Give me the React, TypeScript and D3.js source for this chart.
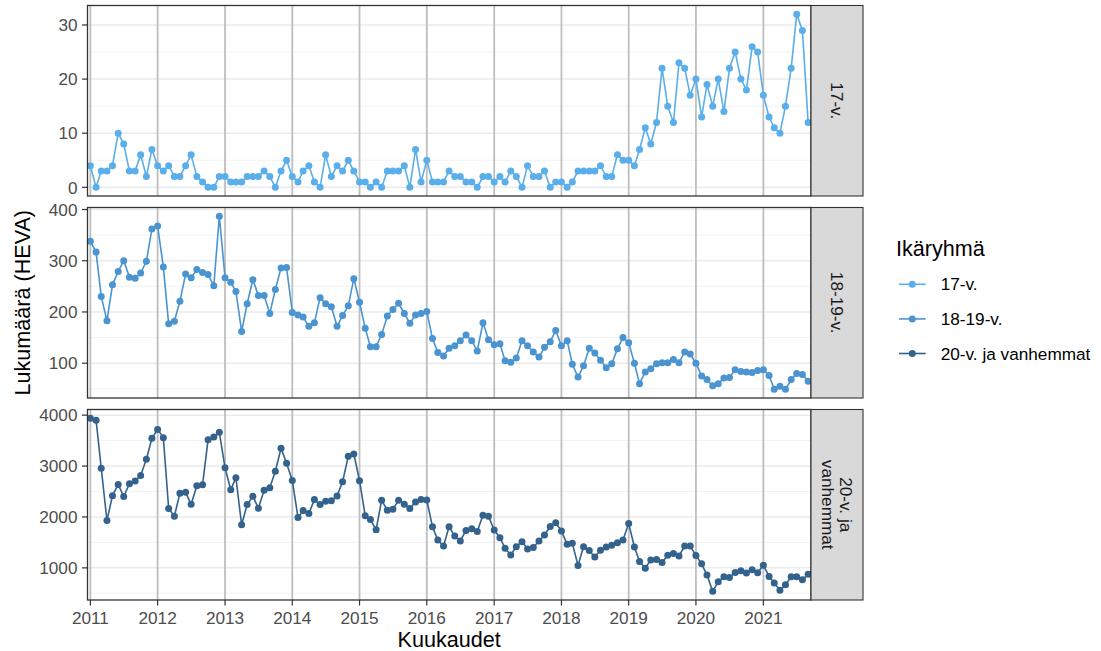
import React from "react";
import * as d3 from "d3";

// ---- Data (monthly, 2011-01 .. 2021-09) ----
const START = new Date(2011, 0, 1);
const N_MONTHS = 129;
const months: Date[] = d3.timeMonth.range(START, d3.timeMonth.offset(START, N_MONTHS));

const series17 = [
  4, 0, 3, 3, 4, 10, 8, 3, 3, 6, 2, 7,
  4, 3, 4, 2, 2, 4, 6, 2, 1, 0, 0, 2,
  2, 1, 1, 1, 2, 2, 2, 3, 2, 0, 3, 5,
  2, 1, 3, 4, 1, 0, 6, 2, 4, 3, 5, 3,
  1, 1, 0, 1, 0, 3, 3, 3, 4, 0, 7, 1,
  5, 1, 1, 1, 3, 2, 2, 1, 1, 0, 2, 2,
  1, 2, 1, 3, 2, 0, 4, 2, 2, 3, 0, 1,
  1, 0, 1, 3, 3, 3, 3, 4, 2, 2, 6, 5,
  5, 4, 7, 11, 8, 12, 22, 15, 12, 23, 22, 17,
  20, 13, 19, 15, 20, 14, 22, 25, 20, 18, 26, 25,
  17, 13, 11, 10, 15, 22, 32, 29, 12,
];

const series1819 = [
  338, 317, 230, 183, 253, 279, 300, 268, 266, 276, 299, 362,
  368, 288, 177, 182, 221, 274, 267, 283, 277, 273, 251, 387,
  267, 258, 240, 162, 216, 263, 232, 232, 197, 244, 286, 287,
  199, 194, 190, 172, 179, 228, 216, 210, 172, 193, 212, 265,
  219, 168, 132, 132, 156, 192, 205, 217, 197, 178, 194, 197,
  201, 148, 121, 114, 129, 134, 144, 155, 144, 124, 179, 146,
  136, 138, 105, 102, 110, 144, 134, 122, 112, 131, 142, 164,
  134, 144, 98, 73, 95, 129, 120, 106, 91, 99, 128, 150,
  140, 100, 60, 83, 89, 99, 101, 101, 107, 101, 122, 118,
  100, 75, 68, 56, 60, 71, 72, 87, 84, 83, 82, 86,
  87, 76, 49, 55, 49, 68, 80, 78, 65,
];

const series20 = [
  3941, 3902, 2959, 1931, 2419, 2640, 2400, 2653, 2705, 2816, 3135, 3545,
  3720, 3558, 2165, 2016, 2465, 2484, 2250, 2614, 2634, 3519, 3571, 3662,
  2966, 2536, 2770, 1846, 2243, 2406, 2172, 2523, 2575, 2900, 3349, 3057,
  2718, 1990, 2126, 2068, 2341, 2243, 2308, 2321, 2412, 2692, 3193, 3239,
  2712, 2022, 1950, 1749, 2328, 2133, 2152, 2328, 2250, 2165, 2295, 2341,
  2334, 1807, 1547, 1430, 1807, 1625, 1528, 1736, 1768, 1716, 2035, 2016,
  1742, 1593, 1385, 1254, 1417, 1515, 1372, 1398, 1528, 1645, 1814, 1885,
  1723, 1463, 1482, 1046, 1417, 1339, 1215, 1346, 1411, 1443, 1495, 1547,
  1872, 1411, 1124, 994, 1157, 1163, 1105, 1248, 1280, 1235, 1430, 1430,
  1241, 1079, 858, 539, 727, 825, 812, 910, 942, 897, 962, 903,
  1053, 832, 701, 558, 669, 825, 825, 766, 877,
];

const groupNames = ["17-v.", "18-19-v.", "20-v. ja vanhemmat"];
const stripLabels = [["17-v."], ["18-19-v."], ["20-v. ja", "vanhemmat"]];
const groupColors = ["#5aaeea", "#4a94d1", "#33628d"];
const yTicks = [
  [0, 10, 20, 30],
  [100, 200, 300, 400],
  [1000, 2000, 3000, 4000],
];
const yMinor = [
  [5, 15, 25],
  [50, 150, 250, 350],
  [500, 1500, 2500, 3500],
];
const yearTicks = d3.range(2011, 2022);

const allSeries = [series17, series1819, series20];

// ---- Layout ----
const W = 1101;
const H = 651;
const panelLeft = 87.5;
const panelRight = 811;
const panelTops = [5.5, 207.5, 409.5];
const panelH = 190.5;
const stripW = 52;
const FONT = "'Liberation Sans', Arial, Helvetica, sans-serif";
const SMALL = 17.2;
const TITLE = 21.6;

export default function App() {
  const first = months[0];
  const last = months[months.length - 1];
  const spanMs = +last - +first;
  const padMs = spanMs * 0.004;
  const x = d3
    .scaleTime()
    .domain([new Date(+first - padMs), new Date(+last + padMs)])
    .range([panelLeft, panelRight]);

  const panels = allSeries.map((vals, i) => {
    const [mn, mx] = d3.extent(vals) as [number, number];
    const e = (mx - mn) * 0.05;
    const top = panelTops[i];
    const y = d3.scaleLinear().domain([mn - e, mx + e]).range([top + panelH, top]);
    const line = d3
      .line<number>()
      .x((_, j) => x(months[j]))
      .y((v) => y(v));
    return { vals, y, top, line: line(vals) || "" };
  });

  const bottom = panelTops[2] + panelH;

  return (
    <svg
      width={W}
      height={H}
      style={{ position: "fixed", left: 0, top: 0, background: "#fff", fontFamily: FONT }}
    >
      <rect x={0} y={0} width={W} height={H} fill="#fff" />
      {panels.map((p, i) => (
        <g key={i}>
          <rect x={panelLeft} y={p.top} width={panelRight - panelLeft} height={panelH} fill="#fff" />
          {yMinor[i].map((t) =>
            p.y(t) > p.top && p.y(t) < p.top + panelH ? (
              <line key={"mi" + t} x1={panelLeft} x2={panelRight} y1={p.y(t)} y2={p.y(t)} stroke="#f2f2f2" strokeWidth={1} />
            ) : null
          )}
          {yTicks[i].map((t) => (
            <line key={"ma" + t} x1={panelLeft} x2={panelRight} y1={p.y(t)} y2={p.y(t)} stroke="#ebebeb" strokeWidth={1.5} />
          ))}
          {yearTicks.map((yr) => {
            const xx = x(new Date(yr, 0, 1));
            return <line key={"v" + yr} x1={xx} x2={xx} y1={p.top} y2={p.top + panelH} stroke="#bebebe" strokeWidth={1.8} />;
          })}
          <path d={p.line} fill="none" stroke={groupColors[i]} strokeWidth={1.6} />
          {p.vals.map((v, j) => (
            <circle key={j} cx={x(months[j])} cy={p.y(v)} r={3.5} fill={groupColors[i]} />
          ))}
          <rect x={panelLeft} y={p.top} width={panelRight - panelLeft} height={panelH} fill="none" stroke="#333333" strokeWidth={1.3} />
          {/* y axis */}
          {yTicks[i].map((t) => (
            <g key={"yt" + t}>
              <line x1={panelLeft - 5.5} x2={panelLeft} y1={p.y(t)} y2={p.y(t)} stroke="#333333" strokeWidth={1.2} />
              <text x={panelLeft - 10} y={p.y(t)} dy="0.36em" textAnchor="end" fontSize={SMALL} fill="#4d4d4d">
                {t}
              </text>
            </g>
          ))}
          {/* strip */}
          <rect x={panelRight} y={p.top} width={stripW} height={panelH} fill="#d9d9d9" stroke="#333333" strokeWidth={1.1} />
          <g transform={`translate(${panelRight + stripW / 2}, ${p.top + panelH / 2}) rotate(90)`}>
            {stripLabels[i].map((s, k) => {
              const n = stripLabels[i].length;
              const off = (k - (n - 1) / 2) * 18.5;
              return (
                <text key={k} x={0} y={off} dy="0.36em" textAnchor="middle" fontSize={SMALL} fill="#1a1a1a">
                  {s}
                </text>
              );
            })}
          </g>
        </g>
      ))}
      {/* x axis */}
      {yearTicks.map((yr) => {
        const xx = x(new Date(yr, 0, 1));
        return (
          <g key={"xt" + yr}>
            <line x1={xx} x2={xx} y1={bottom} y2={bottom + 5.5} stroke="#333333" strokeWidth={1.2} />
            <text x={xx} y={bottom + 23.5} textAnchor="middle" fontSize={SMALL} fill="#4d4d4d">
              {yr}
            </text>
          </g>
        );
      })}
      <text x={(panelLeft + panelRight) / 2} y={647} textAnchor="middle" fontSize={TITLE} fill="#000">
        Kuukaudet
      </text>
      <text
        transform={`translate(29.5, ${(panelTops[0] + bottom) / 2}) rotate(-90)`}
        textAnchor="middle"
        fontSize={TITLE}
        fill="#000"
      >
        Lukumäärä (HEVA)
      </text>
      {/* legend */}
      <text x={896} y={256} fontSize={TITLE} fill="#000">
        Ikäryhmä
      </text>
      {groupNames.map((g, i) => {
        const cy = 284.3 + i * 34.6;
        return (
          <g key={g}>
            <line x1={899} x2={925.7} y1={cy} y2={cy} stroke={groupColors[i]} strokeWidth={1.6} />
            <circle cx={912.3} cy={cy} r={3.5} fill={groupColors[i]} />
            <text x={940.7} y={cy} dy="0.36em" fontSize={SMALL} fill="#000">
              {g}
            </text>
          </g>
        );
      })}
    </svg>
  );
}
